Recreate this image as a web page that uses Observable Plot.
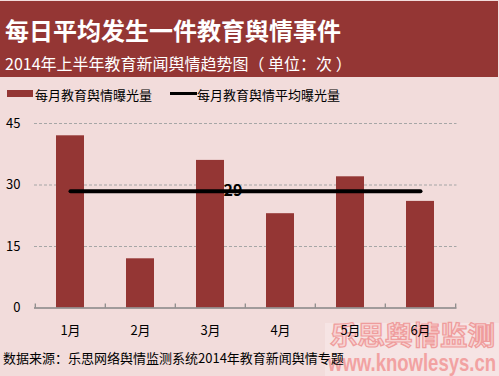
<!DOCTYPE html>
<html>
<head>
<meta charset="utf-8">
<script src="https://cdn.jsdelivr.net/npm/d3@7"></script>
<script src="https://cdn.jsdelivr.net/npm/@observablehq/plot@0.6"></script>
<style>
  html, body { margin: 0; padding: 0; }
  body { width: 499px; height: 376px; background: #f2dcdb; position: relative; overflow: hidden;
         font-family: "Noto Sans CJK SC", "Noto Sans", sans-serif; }
  .abs { position: absolute; white-space: nowrap; }
  #header { left: 0; top: 1px; width: 498px; height: 76px; background: #943634; }
  #title { left: 5px; top: 18px; font-size: 24px; line-height: 24px; font-weight: bold; color: #fff; }
  #subtitle { left: 5px; top: 55px; font-size: 16px; line-height: 16px; color: #fff; }
  .leg { font-size: 13px; line-height: 13px; color: #000; top: 88px; }
  #chart { left: 0; top: 110px; }
  #footer { left: 3px; top: 351px; font-size: 13px; line-height: 13px; color: #000; }
  #wm { left: 325px; top: 323px; width: 174px; height: 53px; background: #f6e4e4; }
  #wm1 { left: 330px; top: 321px; font-size: 26px; line-height: 26px; font-weight: bold; color: #f7d2d2;
         -webkit-text-stroke: 1.2px #ef9c9c; transform-origin: left top; }
  #wm2 { left: 328px; top: 351px; font-size: 24px; line-height: 24px; font-weight: bold; color: #f2a2a2;
         font-family: "Liberation Sans Narrow", "Liberation Sans", sans-serif; transform-origin: left top; }
</style>
</head>
<body>
<div id="header" class="abs"></div>
<div id="title" class="abs">每日平均发生一件教育舆情事件</div>
<div id="subtitle" class="abs">2014年上半年教育新闻舆情趋势图（ 单位：次 ）</div>
<div id="legend"></div>
<div id="wm" class="abs"></div>
<div id="wm1" class="abs">乐思舆情监测</div>
<div id="wm2" class="abs">www.knowlesys.cn</div>
<div id="chart" class="abs"></div>
<div id="footer" class="abs">数据来源：乐思网络舆情监测系统2014年教育新闻舆情专题</div>
<script>
const months = ["1月", "2月", "3月", "4月", "5月", "6月"];
const exposure = [42, 12, 36, 23, 32, 26];
const averageExposure = [28.5, 28.5, 28.5, 28.5, 28.5, 28.5];
const yTicks = [0, 15, 30, 45];
const seriesNames = ["每月教育舆情曝光量", "每月教育舆情平均曝光量"];
const avgLabelMonth = "3月";

const barColor = "#943634";

function fitWidth(id, w) {
  const el = document.getElementById(id);
  const cur = el.getBoundingClientRect().width;
  el.style.transform = `scaleX(${w / cur})`;
}
fitWidth("wm1", 165);
fitWidth("wm2", 168);

const legend = document.getElementById("legend");
legend.innerHTML = `
  <div class="abs" style="left:7px;top:90px;width:26px;height:7px;background:${barColor}"></div>
  <div class="abs leg" style="left:35px">${seriesNames[0]}</div>
  <div class="abs" style="left:170px;top:92px;width:27px;height:3px;background:#000"></div>
  <div class="abs leg" style="left:197px">${seriesNames[1]}</div>`;

const data = months.map((m, i) => ({month: m, value: exposure[i], avg: averageExposure[i]}));
const labelRow = data.filter(d => d.month === avgLabelMonth);
const bounds = months.map(m => ({month: m, lo: 0, hi: 1}));
const step = (456.5 - 34) / 6;

const chart = Plot.plot({
  width: 499,
  height: 230,
  marginLeft: 34,
  marginRight: 42.5,
  marginTop: 13,
  marginBottom: 32.5,
  style: {background: "transparent", fontFamily: "'Noto Sans CJK SC', sans-serif", fontSize: "13px", color: "#000"},
  x: {domain: months, paddingInner: 0.6, paddingOuter: 0.3, label: null},
  y: {domain: [0, 45], label: null},
  marks: [
    Plot.ruleY(yTicks.filter(t => t > 0), {stroke: "#a6a6a6", strokeDasharray: "3,2", strokeWidth: 1}),
    Plot.barY(data, {x: "month", y: "value", fill: barColor}),
    Plot.ruleY([0], {stroke: "#868686", strokeWidth: 1.5}),
    Plot.ruleX(bounds, {x: "month", y1: "lo", y2: "hi", dx: -step / 2, stroke: "#868686", strokeWidth: 1.2}),
    Plot.ruleX(bounds.slice(-1), {x: "month", y1: "lo", y2: "hi", dx: step / 2, stroke: "#868686", strokeWidth: 1.2}),
    Plot.lineY(data, {x: "month", y: "avg", stroke: "#000", strokeWidth: 4}),
    Plot.text(labelRow, {x: "month", y: "avg", text: d => String(Math.round(d.avg)), dx: 13, textAnchor: "start",
      fontWeight: "bold", fontSize: 16, fill: "#000"}),
    Plot.axisY(yTicks, {tickSize: 0, tickPadding: 14, fontSize: 13}),
    Plot.axisX({tickSize: 0, tickPadding: 18, fontSize: 13})
  ]
});
document.getElementById("chart").appendChild(chart);
</script>
</body>
</html>
